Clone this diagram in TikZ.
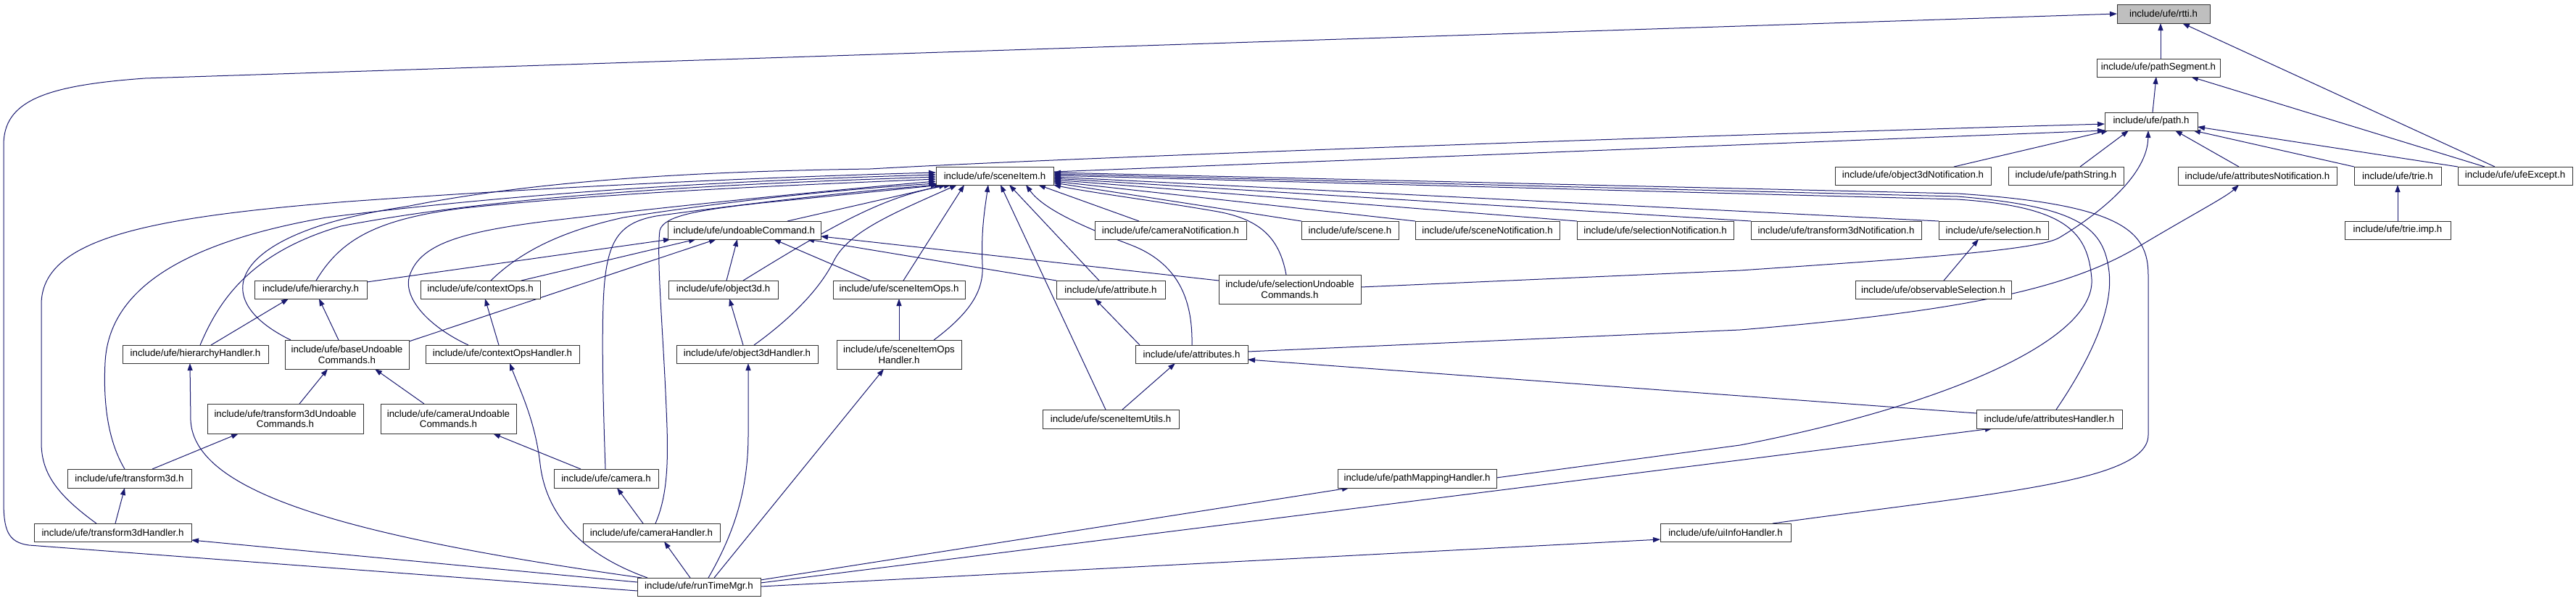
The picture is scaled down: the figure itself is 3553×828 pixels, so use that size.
\documentclass[tikz,border=0pt]{standalone}
\usepackage{fontspec}
\newfontfamily\dfont{Liberation Sans}
\usetikzlibrary{arrows.meta,backgrounds}
\definecolor{edgec}{HTML}{191970}
\definecolor{boxc}{HTML}{333333}
\definecolor{hilite}{HTML}{BFBFBF}
\newcommand{\dnode}[7][]{\node[dbox,#1,minimum width={#5-#3},minimum height={#6-#4}] (#2) at ({(#3+#5)/2},{(#4+#6)/2}) {#7};}
\begin{document}
\begin{tikzpicture}[x=1pt,y=-1pt,
  dbox/.style={draw=boxc,line width=1pt,fill=white,inner sep=0pt,outer sep=0pt,align=center,
    font=\dfont\fontsize{13.3}{14.5}\selectfont},
  edge/.style={draw=edgec,line width=1pt,-{Triangle[length=10pt,width=7pt]}}]
\useasboundingbox (0,0) rectangle (3553,828);
% rank 0-2
\dnode[fill=hilite]{rtti}{2920}{6}{3048}{32}{include/ufe/rtti.h}
\dnode{pseg}{2892}{81}{3062}{106}{include/ufe/pathSegment.h}
\dnode{path}{2903}{155}{3031}{180}{include/ufe/path.h}
% rank 3
\dnode{sitem}{1291}{230}{1453}{255}{include/ufe/sceneItem.h}
\dnode{o3dn}{2531}{230}{2746}{255}{include/ufe/object3dNotification.h}
\dnode{pstr}{2770}{230}{2929}{255}{include/ufe/pathString.h}
\dnode{attn}{3004}{230}{3223}{255}{include/ufe/attributesNotification.h}
\dnode{trie}{3247}{230}{3367}{255}{include/ufe/trie.h}
\dnode{ufeex}{3390}{230}{3548}{255}{include/ufe/ufeExcept.h}
% rank 4
\dnode{undo}{921}{305}{1132}{330}{include/ufe/undoableCommand.h}
\dnode{camn}{1510}{305}{1719}{330}{include/ufe/cameraNotification.h}
\dnode{scene}{1795}{305}{1929}{330}{include/ufe/scene.h}
\dnode{scenen}{1952}{305}{2151}{330}{include/ufe/sceneNotification.h}
\dnode{seln}{2175}{305}{2391}{330}{include/ufe/selectionNotification.h}
\dnode{t3dn}{2415}{305}{2650}{330}{include/ufe/transform3dNotification.h}
\dnode{sel}{2674}{305}{2825}{330}{include/ufe/selection.h}
\dnode{trieimp}{3234}{305}{3380}{330}{include/ufe/trie.imp.h}
% rank 5
\dnode{hier}{351}{387}{506}{412}{include/ufe/hierarchy.h}
\dnode{ctxops}{580}{387}{745}{412}{include/ufe/contextOps.h}
\dnode{obj3d}{922}{387}{1073}{412}{include/ufe/object3d.h}
\dnode{siops}{1149}{387}{1331}{412}{include/ufe/sceneItemOps.h}
\dnode{attr}{1457}{387}{1607}{412}{include/ufe/attribute.h}
\dnode{selundo}{1681}{379}{1877}{419}{include/ufe/selectionUndoable\\Commands.h}
\dnode{obssel}{2559}{387}{2774}{412}{include/ufe/observableSelection.h}
% rank 6
\dnode{hierh}{169}{476}{370}{501}{include/ufe/hierarchyHandler.h}
\dnode{baseundo}{393}{469}{564}{509}{include/ufe/baseUndoable\\Commands.h}
\dnode{ctxopsh}{587}{476}{799}{501}{include/ufe/contextOpsHandler.h}
\dnode{obj3dh}{933}{476}{1128}{501}{include/ufe/object3dHandler.h}
\dnode{siopsh}{1154}{469}{1326}{509}{include/ufe/sceneItemOps\\Handler.h}
\dnode{attrs}{1566}{476}{1721}{501}{include/ufe/attributes.h}
% rank 7
\dnode{t3dundo}{286}{557}{501}{598}{include/ufe/transform3dUndoable\\Commands.h}
\dnode{camundo}{525}{557}{712}{598}{include/ufe/cameraUndoable\\Commands.h}
\dnode{siutils}{1438}{565}{1626}{591}{include/ufe/sceneItemUtils.h}
\dnode{attrh}{2726}{565}{2927}{591}{include/ufe/attributesHandler.h}
% rank 8
\dnode{t3d}{93}{647}{264}{673}{include/ufe/transform3d.h}
\dnode{cam}{764}{647}{908}{673}{include/ufe/camera.h}
\dnode{pmh}{1845}{647}{2064}{673}{include/ufe/pathMappingHandler.h}
% rank 9
\dnode{t3dh}{47}{722}{264}{747}{include/ufe/transform3dHandler.h}
\dnode{camh}{804}{722}{993}{747}{include/ufe/cameraHandler.h}
\dnode{uih}{2290}{722}{2470}{747}{include/ufe/uiInfoHandler.h}
% rank 10
\dnode{rtm}{879}{797}{1049}{822}{include/ufe/runTimeMgr.h}

\begin{pgfonlayer}{background}
\fill[white] (0,0) rectangle (3553,828);
% into rtti / pathSegment
\draw[edge] (pseg.north -| 2980,0) -- (rtti.south -| 2980,0);
\draw[edge] (path.north -| 2969,0) -- (pseg.south -| 2974,0);
\draw[edge] (ufeex.north -| 3427,0) -- (pseg.south -| 3022,0);
\draw[edge] (ufeex.north -| 3441,0) -- (rtti.south -| 3010,0);
\draw[edge] (rtm.west |- 0,815) -- (40,752) .. controls (10,748) and (5,730) .. (5,690) -- (5,200) .. controls (5,140) and (60,118) .. (200,108) -- (rtti.west |- 0,19);
% into path
\draw[edge] (sitem.east |- 0,237) -- (path.south west);
\draw[edge] (baseundo.north -| 401,0) .. controls (280,410) and (320,320) .. (560,285) .. controls (760,245) and (1000,236) .. (1200,233) .. controls (1500,216) and (2400,185) .. (path.west |- 0,171);
\draw[edge] (o3dn.north -| 2695,0) -- (path.south -| 2908,0);
\draw[edge] (pstr.north -| 2869,0) -- (path.south -| 2936,0);
\draw[edge] (attn.north -| 3088,0) -- (path.south -| 3000,0);
\draw[edge] (trie.north -| 3247,0) -- (path.south -| 3025,0);
\draw[edge] (ufeex.north -| 3390,0) -- (path.east |- 0,175);
\draw[edge] (selundo.east |- 0,396) -- (2400,373) .. controls (2650,356) and (2810,345) .. (2840,328) .. controls (2900,292) and (2962,240) .. (path.south -| 2963,0);
\draw[edge] (trieimp.north -| 3307,0) -- (trie.south -| 3307,0);
\draw[edge] (obssel.north -| 2681,0) -- (sel.south -| 2729,0);
% into sceneItem from the left
\draw[edge] (t3dh.north -| 133,0) .. controls (75,680) and (57,650) .. (57,610) -- (57,420) .. controls (57,330) and (200,300) .. (480,278) .. controls (800,255) and (1100,243) .. (sitem.west |- 0,238);
\draw[edge] (t3d.north -| 172,0) .. controls (150,610) and (142,560) .. (145,500) .. controls (150,400) and (250,335) .. (450,300) .. controls (750,262) and (1050,248) .. (sitem.west |- 0,241);
\draw[edge] (hierh.north -| 276,0) .. controls (300,420) and (340,350) .. (470,312) .. controls (700,268) and (1000,254) .. (sitem.west |- 0,244);
\draw[edge] (hier.north -| 436,0) .. controls (470,330) and (520,302) .. (640,287) .. controls (850,265) and (1080,256) .. (sitem.west |- 0,247);
\draw[edge] (ctxopsh.north -| 646,0) .. controls (590,450) and (555,410) .. (565,380) .. controls (580,335) and (640,318) .. (780,302) .. controls (950,282) and (1150,262) .. (sitem.west |- 0,250);
\draw[edge] (ctxops.north -| 677,0) .. controls (710,355) and (760,322) .. (860,300) .. controls (1000,278) and (1150,262) .. (sitem.west |- 0,253);
\draw[edge] (cam.north -| 835,0) .. controls (832,560) and (830,480) .. (832,420) .. controls (835,335) and (850,308) .. (905,298) .. controls (1050,278) and (1200,262) .. (sitem.south -| 1294,0);
\draw[edge] (camh.north -| 904,0) .. controls (918,690) and (922,650) .. (920,590) .. controls (916,470) and (905,360) .. (910,318) .. controls (915,298) and (960,290) .. (1050,280) .. controls (1150,270) and (1230,262) .. (sitem.south -| 1299,0);
% into sceneItem from below
\draw[edge] (undo.north -| 1086,0) -- (sitem.south -| 1305,0);
\draw[edge] (obj3d.north -| 1025,0) .. controls (1150,310) and (1220,270) .. (sitem.south -| 1312,0);
\draw[edge] (obj3dh.north -| 1040,0) .. controls (1090,440) and (1130,400) .. (1150,360) .. controls (1170,320) and (1230,295) .. (sitem.south -| 1320,0);
\draw[edge] (siops.north -| 1246,0) -- (sitem.south -| 1330,0);
\draw[edge] (siopsh.north -| 1288,0) .. controls (1340,430) and (1357,400) .. (1355,365) .. controls (1353,320) and (1358,290) .. (sitem.south -| 1363,0);
\draw[edge] (siutils.north -| 1525,0) -- (sitem.south -| 1380,0);
\draw[edge] (attr.north -| 1516,0) -- (sitem.south -| 1392,0);
\draw[edge] (attrs.north -| 1644,0) .. controls (1645,420) and (1630,365) .. (1560,338) .. controls (1500,315) and (1440,290) .. (sitem.south -| 1415,0);
\draw[edge] (camn.north -| 1571,0) -- (sitem.south -| 1432,0);
% into sceneItem from the right
\draw[edge] (selundo.north -| 1774,0) .. controls (1765,330) and (1740,303) .. (1680,292) .. controls (1600,278) and (1500,265) .. (sitem.south east);
\draw[edge] (scene.north west) -- (sitem.east |- 0,252);
\draw[edge] (scenen.north west) -- (sitem.east |- 0,250);
\draw[edge] (seln.north west) -- (sitem.east |- 0,248);
\draw[edge] (t3dn.north west) -- (sitem.east |- 0,246);
\draw[edge] (sel.north west) -- (sitem.east |- 0,244);
\draw[edge] (pmh.east |- 0,659) -- (2400,614) .. controls (2680,560) and (2890,470) .. (2885,385) .. controls (2880,320) and (2850,285) .. (2700,275) -- (sitem.east |- 0,242);
\draw[edge] (attrh.north -| 2836,0) .. controls (2880,500) and (2915,430) .. (2909,375) .. controls (2902,315) and (2870,285) .. (2700,271) -- (sitem.east |- 0,240);
\draw[edge] (uih.north -| 2445,0) .. controls (2750,680) and (2963,665) .. (2963,600) -- (2963,380) .. controls (2963,320) and (2930,282) .. (2700,267) -- (sitem.east |- 0,238);
% into undoableCommand
\draw[edge] (hier.east |- 0,389) -- (undo.south -| 925,0);
\draw[edge] (ctxops.north -| 719,0) -- (undo.south -| 960,0);
\draw[edge] (baseundo.east |- 0,471) -- (undo.south -| 988,0);
\draw[edge] (obj3d.north -| 1002,0) -- (undo.south -| 1017,0);
\draw[edge] (siops.north -| 1200,0) -- (undo.south -| 1067,0);
\draw[edge] (attr.north west) -- (undo.south -| 1113,0);
\draw[edge] (selundo.west |- 0,387) -- (undo.east |- 0,326);
% other includes
\draw[edge] (hierh.north -| 291,0) -- (hier.south -| 398,0);
\draw[edge] (baseundo.north -| 467,0) -- (hier.south -| 440,0);
\draw[edge] (ctxopsh.north -| 688,0) -- (ctxops.south -| 669,0);
\draw[edge] (obj3dh.north -| 1025,0) -- (obj3d.south -| 1006,0);
\draw[edge] (siopsh.north -| 1240,0) -- (siops.south -| 1240,0);
\draw[edge] (attrs.north -| 1572,0) -- (attr.south -| 1510,0);
\draw[edge] (attrs.east |- 0,485) -- (2400,455) .. controls (2700,430) and (2850,400) .. (2950,340) .. controls (3020,298) and (3070,272) .. (attn.south -| 3088,0);
\draw[edge] (siutils.north -| 1548,0) -- (attrs.south -| 1621,0);
\draw[edge] (attrh.west |- 0,570) -- (attrs.east |- 0,496);
\draw[edge] (t3dundo.north -| 413,0) -- (baseundo.south -| 452,0);
\draw[edge] (camundo.north -| 585,0) -- (baseundo.south -| 517,0);
\draw[edge] (t3d.north -| 210,0) -- (t3dundo.south -| 329,0);
\draw[edge] (cam.north -| 801,0) -- (camundo.south -| 680,0);
\draw[edge] (t3dh.north -| 159,0) -- (t3d.south -| 172,0);
\draw[edge] (camh.north -| 887,0) -- (cam.south -| 851,0);
% from runTimeMgr
\draw[edge] (rtm.west |- 0,803) -- (t3dh.east |- 0,745);
\draw[edge] (rtm.north -| 885,0) .. controls (480,740) and (268,680) .. (263,580) -- (hierh.south -| 262,0);
\draw[edge] (rtm.north -| 893,0) .. controls (790,760) and (752,700) .. (745,640) .. controls (738,580) and (718,540) .. (ctxopsh.south -| 703,0);
\draw[edge] (rtm.north -| 952,0) -- (camh.south -| 916,0);
\draw[edge] (rtm.north -| 977,0) .. controls (1010,740) and (1032,680) .. (1032,600) -- (obj3dh.south -| 1032,0);
\draw[edge] (rtm.north -| 985,0) -- (siopsh.south -| 1219,0);
\draw[edge] (rtm.east |- 0,800) -- (pmh.south -| 1861,0);
\draw[edge] (rtm.east |- 0,804) -- (attrh.south -| 2748,0);
\draw[edge] (rtm.east |- 0,809) -- (uih.west |- 0,744);
\end{pgfonlayer}
\end{tikzpicture}
\end{document}
